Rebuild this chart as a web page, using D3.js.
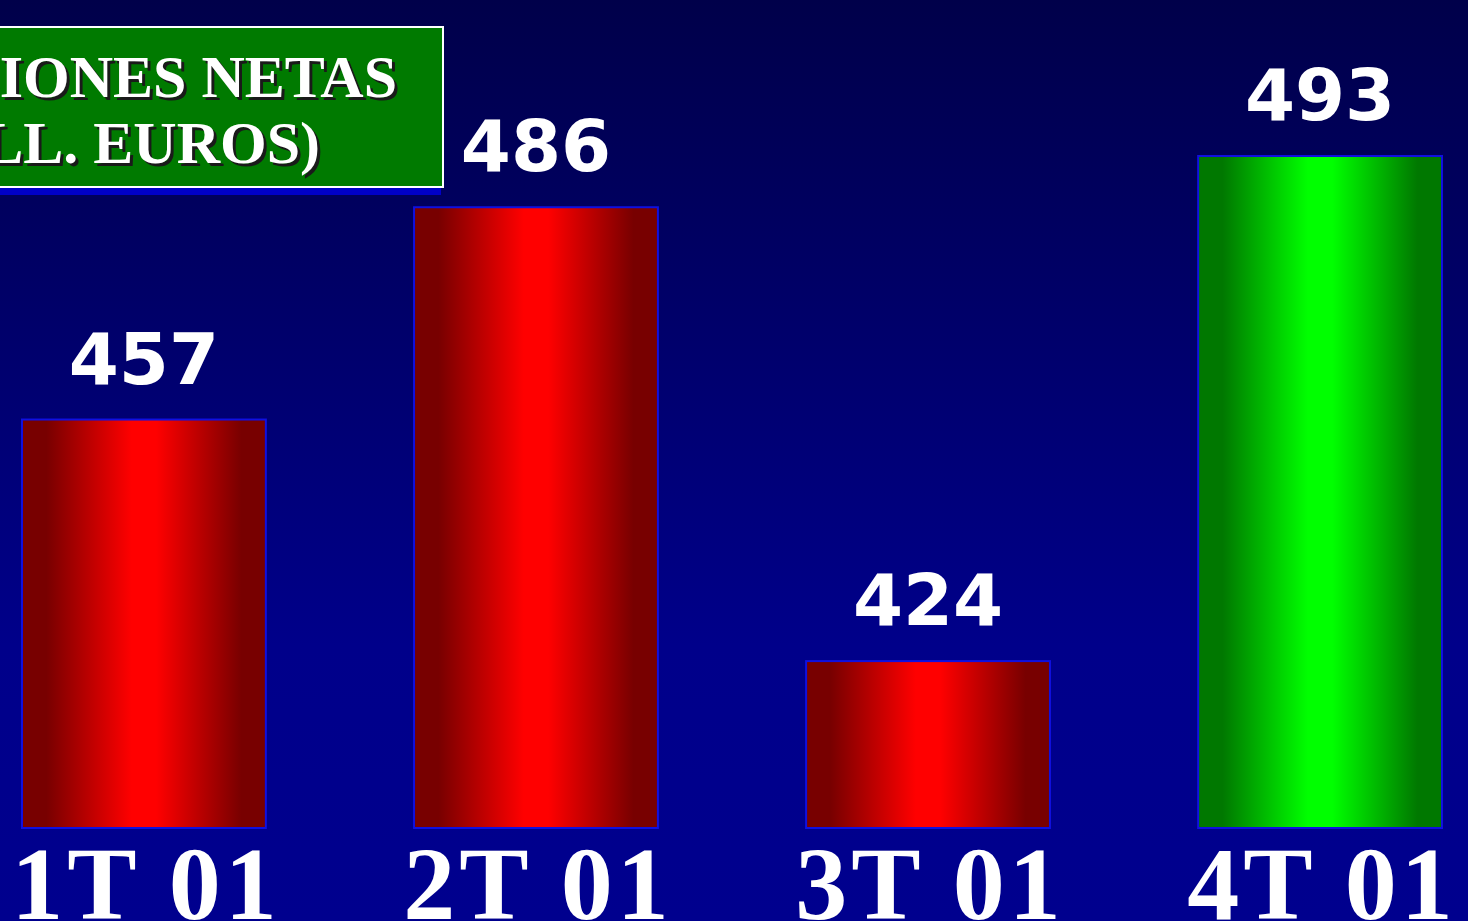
<!DOCTYPE html>
<html>
<head>
<meta charset="utf-8">
<script src="https://cdn.jsdelivr.net/npm/d3@7"></script>
<style>
html,body{margin:0;padding:0;background:#000060;overflow:hidden;}
svg{display:block;}
</style>
</head>
<body>
<svg id="chart" width="1468" height="921"></svg>
<script>
const categories = ["1T 01", "2T 01", "3T 01", "4T 01"];
const values = [457, 486, 424, 493];
const highlight = [false, false, false, true];
const titleLines = ["COMISIONES NETAS", "(MILL. EUROS)"];

const W = 1468, H = 921;
const svg = d3.select("#chart");
const defs = svg.append("defs");

const bg = defs.append("linearGradient").attr("id","bg").attr("x1",0).attr("y1",0).attr("x2",0).attr("y2",1);
bg.append("stop").attr("offset","0%").attr("stop-color","#00004a");
bg.append("stop").attr("offset","70%").attr("stop-color","#00008a");
bg.append("stop").attr("offset","100%").attr("stop-color","#00008e");

function barGrad(id, dark, bright){
  const g = defs.append("linearGradient").attr("id",id).attr("x1",0).attr("y1",0).attr("x2",1).attr("y2",0);
  g.append("stop").attr("offset","0%").attr("stop-color",dark);
  g.append("stop").attr("offset","10%").attr("stop-color",dark);
  g.append("stop").attr("offset","45%").attr("stop-color",bright);
  g.append("stop").attr("offset","55%").attr("stop-color",bright);
  g.append("stop").attr("offset","90%").attr("stop-color",dark);
  g.append("stop").attr("offset","100%").attr("stop-color",dark);
}
barGrad("redG","#780000","#ff0000");
barGrad("greenG","#007800","#00ff00");

svg.append("rect").attr("width",W).attr("height",H).attr("fill","url(#bg)");

const x = d3.scaleBand().domain(categories).range([22, 1442]).paddingInner(0.378).paddingOuter(0);
const y = d3.scaleLinear().domain([401.2, 493]).range([828, 156]);

const g = svg.append("g");
g.selectAll("rect.bar").data(categories).join("rect")
  .attr("class","bar")
  .attr("x", d => x(d))
  .attr("width", x.bandwidth())
  .attr("y", (d,i) => y(values[i]))
  .attr("height", (d,i) => y.range()[0] - y(values[i]))
  .attr("fill", (d,i) => highlight[i] ? "url(#greenG)" : "url(#redG)")
  .attr("stroke", "#1010e0")
  .attr("stroke-width", 2);

g.selectAll("text.val").data(categories).join("text")
  .attr("class","val")
  .attr("x", d => x(d) + x.bandwidth()/2)
  .attr("y", (d,i) => y(values[i]) - 36)
  .attr("text-anchor","middle")
  .attr("font-family","DejaVu Sans")
  .attr("font-weight","bold")
  .attr("font-size",72)
  .attr("fill","#ffffff")
  .text((d,i) => values[i]);

g.selectAll("text.cat").data(categories).join("text")
  .attr("class","cat")
  .attr("x", d => x(d) + x.bandwidth()/2 + 2)
  .attr("y", 919)
  .attr("text-anchor","middle")
  .attr("font-family","Liberation Serif")
  .attr("font-weight","bold")
  .attr("font-size",104)
  .attr("letter-spacing","4px")
  .attr("fill","#ffffff")
  .text(d => d);

// title box
const tb = svg.append("g");
tb.append("rect").attr("x",-10).attr("y",35).attr("width",451).attr("height",160).attr("fill","#0000c8");
tb.append("rect").attr("x",-10).attr("y",27).attr("width",453).attr("height",160)
  .attr("fill","#007a00").attr("stroke","#ffffff").attr("stroke-width",2);
const tEnds = [397, 320];
const tBase = [97, 163];
titleLines.forEach((t,i) => {
  tb.append("text").attr("x",tEnds[i]+3).attr("y",tBase[i]+3).attr("text-anchor","end")
    .attr("font-family","Liberation Serif").attr("font-weight","bold").attr("font-size",60)
    .attr("fill","#1a1a1a").text(t);
  tb.append("text").attr("x",tEnds[i]).attr("y",tBase[i]).attr("text-anchor","end")
    .attr("font-family","Liberation Serif").attr("font-weight","bold").attr("font-size",60)
    .attr("fill","#ffffff").text(t);
});
</script>
</body>
</html>
